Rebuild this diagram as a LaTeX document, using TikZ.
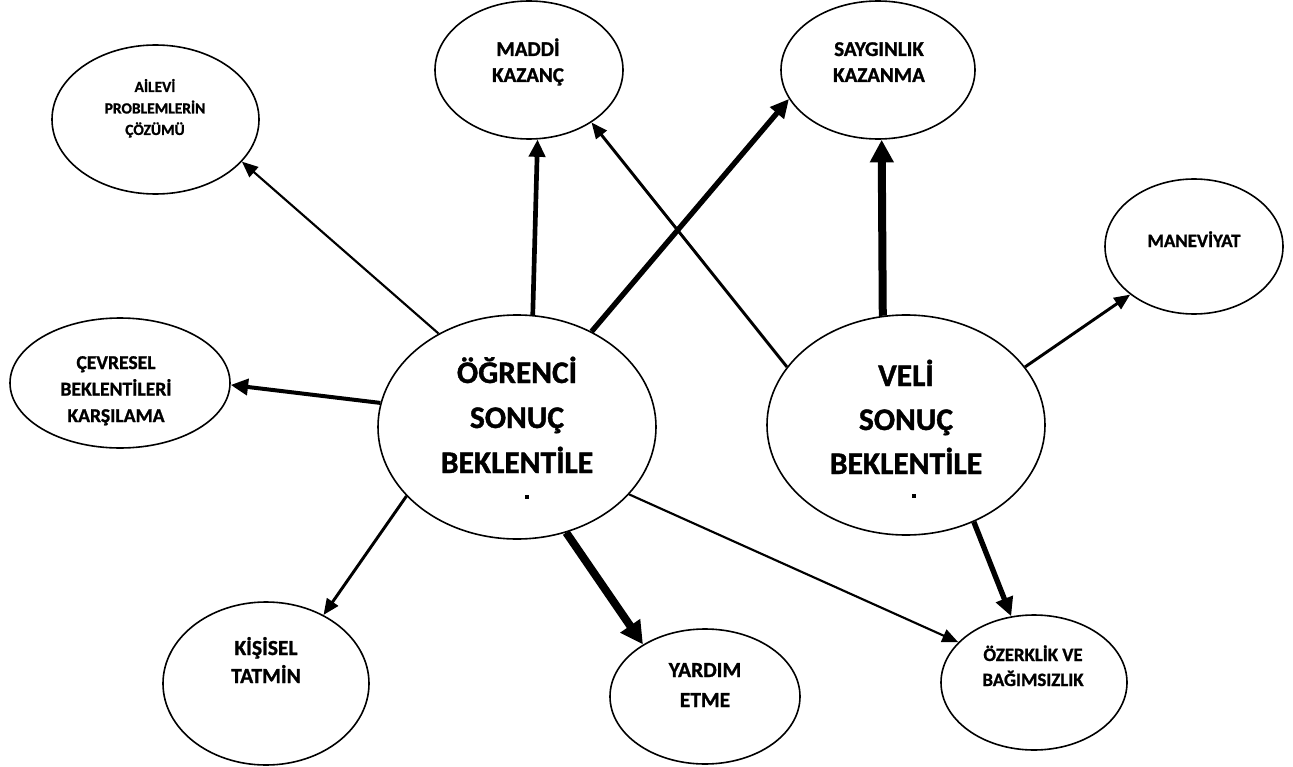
\documentclass[tikz,border=0pt]{standalone}
\usepackage{fontspec}
\setmainfont{Carlito}[BoldFeatures={FakeBold=1.2}]
\usetikzlibrary{arrows.meta,shapes.geometric}
\newcommand\txtlines[3]{{\fontsize{#1}{#2}\selectfont\bfseries\begin{tabular}[t]{@{}c@{}}#3\end{tabular}}}
\begin{document}
\begin{tikzpicture}[x=0.75pt,y=-0.75pt,
  ell/.style 2 args={draw, line width=1.2pt, ellipse, inner sep=0pt, minimum width=#1*0.75pt, minimum height=#2*0.75pt},
  lbl/.style={anchor=base, inner sep=0pt},
  a1/.style={line width=1.6pt, -{Triangle[length=12pt,width=10pt]}},
  a1b/.style={line width=2.2pt, -{Triangle[length=12pt,width=10pt]}},
  a2/.style={line width=3pt, -{Triangle[length=13pt,width=12pt]}},
  a3m/.style={line width=3.5pt, -{Triangle[length=13pt,width=12pt]}},
  a3/.style={line width=4pt, -{Triangle[length=14pt,width=13pt]}},
  a4/.style={line width=6pt, -{Triangle[length=17pt,width=17pt]}}]
\useasboundingbox (0,0) rectangle (1293,767);
% ellipses
\node[ell={207}{149}] (ail) at (155.5,119.5) {};
\node[ell={188}{138}] (mad) at (529,70) {};
\node[ell={194}{138}] (say) at (878,70) {};
\node[ell={178}{135}] (man) at (1194,246.5) {};
\node[ell={220}{130}] (cev) at (120,383) {};
\node[ell={278}{224}] (ogr) at (517,427) {};
\node[ell={278}{220}] (vel) at (906,425) {};
\node[ell={206}{163}] (kis) at (266,683.5) {};
\node[ell={190}{135}] (yar) at (705,696.5) {};
\node[ell={186}{135}] (oze) at (1034,682.5) {};
% texts
\node[lbl] (ail-t) at (155,92) {\txtlines{11.6pt}{16.1pt}{AİLEVİ\\PROBLEMLERİN\\ÇÖZÜMÜ}};
\node[lbl] (mad-t) at (528,56) {\txtlines{15.75pt}{19.5pt}{MADDİ\\KAZANÇ}};
\node[lbl] (say-t) at (879,56) {\txtlines{15.75pt}{19.5pt}{SAYGINLIK\\KAZANMA}};
\node[lbl] (man-t) at (1194,247) {\txtlines{14.1pt}{18pt}{MANEVİYAT}};
\node[lbl] (cev-t) at (116,369) {\txtlines{14.7pt}{19.9pt}{ÇEVRESEL\\BEKLENTİLERİ\\KARŞILAMA}};
\node[lbl] (ogr-t) at (517,383) {\txtlines{23.6pt}{33.75pt}{ÖĞRENCİ\\SONUÇ\\BEKLENTİLE}};
\node[lbl] (vel-t) at (906,386) {\txtlines{23.6pt}{33pt}{VELİ\\SONUÇ\\BEKLENTİLE}};
\node[lbl] (kis-t) at (266,655) {\txtlines{16.1pt}{21pt}{KİŞİSEL\\TATMİN}};
\node[lbl] (yar-t) at (705,677) {\txtlines{16.1pt}{22.5pt}{YARDIM\\ETME}};
\node[lbl] (oze-t) at (1033,661) {\txtlines{14.1pt}{18.75pt}{ÖZERKLİK VE\\BAĞIMSIZLIK}};
% clipped last letters
\fill ([shift={(8,68)}]ogr.center) rectangle ++(4,4);
\fill ([shift={(6,69)}]vel.center) rectangle ++(4,4);
% connectors
\draw[a1] (ogr.130.2) -- (ail.-26.9);
\draw[a3m] (ogr.82.4) -- (mad.-83.6);
\draw[a3] (ogr.52.3) -- (say.198.4);
\draw[a1b] (vel.154.2) -- (mad.-40.7);
\draw[a4] (vel.102.8) -- (say.-87.5);
\draw[a1b] (vel.26.2) -- (man.217);
\draw[a2] (ogr.170.9) -- (cev.-1);
\draw[a1b] (ogr.212.3) -- (kis.50.6);
\draw[a4] (ogr.-65.6) -- (yar.140.9);
\draw[a1] (ogr.-31.9) -- (oze.152.8);
\draw[a3] (vel.-55.4) -- (oze.109.8);
\end{tikzpicture}
\end{document}
